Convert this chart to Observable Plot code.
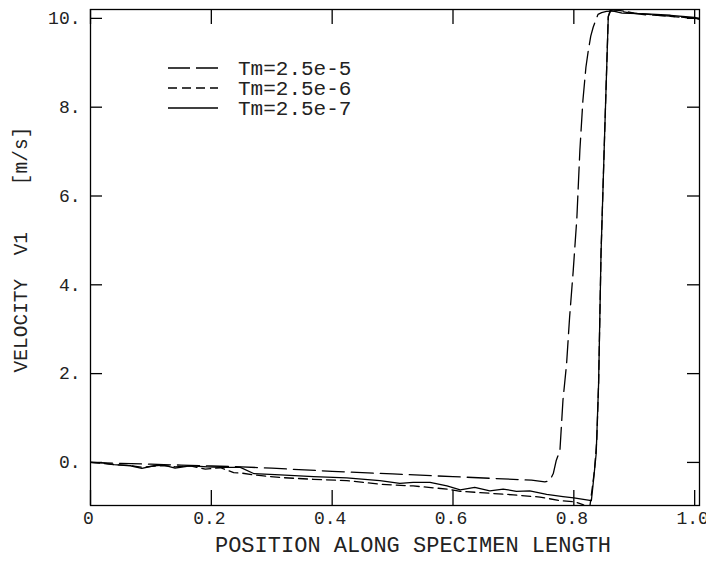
<!DOCTYPE html>
<html>
<head>
<meta charset="utf-8">
<script src="https://cdn.jsdelivr.net/npm/d3@7"></script>
<script src="https://cdn.jsdelivr.net/npm/@observablehq/plot@0.6"></script>
<style>
  html, body { margin: 0; padding: 0; background: #fff; }
  #chart { width: 706px; height: 566px; }
</style>
</head>
<body>
<div id="chart"></div>
<script>
// ---- Data ----
const seriesNames = ["Tm=2.5e-5", "Tm=2.5e-6", "Tm=2.5e-7"];

const xA = [0, 0.05, 0.1, 0.15, 0.2, 0.25, 0.3, 0.4, 0.5, 0.6, 0.7, 0.73, 0.752, 0.76, 0.766, 0.771, 0.777, 0.782, 0.788, 0.793, 0.799, 0.805, 0.81, 0.815, 0.82, 0.824, 0.828, 0.832, 0.836, 0.84, 0.846, 0.854, 0.87, 0.89, 0.92, 0.96, 1.0, 1.008];
const yA = [0, -0.02, -0.04, -0.06, -0.08, -0.1, -0.13, -0.2, -0.26, -0.32, -0.38, -0.4, -0.44, -0.41, -0.25, 0.05, 0.27, 1.4, 2.22, 3.27, 4.32, 5.5, 7.03, 8.15, 8.9, 9.28, 9.6, 9.8, 9.95, 10.09, 10.13, 10.16, 10.17, 10.13, 10.08, 10.05, 10.0, 9.99];

const xB = [0, 0.02, 0.04, 0.066, 0.085, 0.1, 0.12, 0.14, 0.165, 0.19, 0.215, 0.237, 0.25, 0.27, 0.314, 0.369, 0.424, 0.479, 0.534, 0.59, 0.612, 0.645, 0.7, 0.744, 0.777, 0.802, 0.815, 0.826, 0.834, 0.838, 0.841, 0.845, 0.851, 0.857, 0.862, 0.88, 0.9, 0.94, 1.0, 1.008];
const yB = [0, -0.02, -0.05, -0.07, -0.11, -0.09, -0.07, -0.1, -0.08, -0.15, -0.12, -0.23, -0.24, -0.28, -0.34, -0.38, -0.41, -0.49, -0.53, -0.6, -0.65, -0.68, -0.73, -0.78, -0.86, -0.89, -0.95, -1.05, -0.2, 0.5, 1.78, 4.7, 7.4, 10.05, 10.2, 10.17, 10.12, 10.07, 10.0, 9.98];

const xC = [0, 0.02, 0.039, 0.066, 0.085, 0.105, 0.121, 0.14, 0.165, 0.193, 0.215, 0.248, 0.27, 0.314, 0.369, 0.424, 0.479, 0.512, 0.534, 0.562, 0.59, 0.612, 0.636, 0.661, 0.683, 0.705, 0.727, 0.755, 0.782, 0.8, 0.829, 0.832, 0.837, 0.841, 0.845, 0.851, 0.857, 0.86, 0.88, 0.92, 0.96, 1.0, 1.008];
const yC = [0, -0.01, -0.05, -0.075, -0.135, -0.075, -0.06, -0.13, -0.075, -0.1, -0.11, -0.11, -0.25, -0.28, -0.32, -0.35, -0.41, -0.47, -0.45, -0.45, -0.53, -0.62, -0.56, -0.64, -0.6, -0.65, -0.64, -0.72, -0.77, -0.8, -0.86, -0.48, 0.2, 1.78, 4.7, 7.4, 10.03, 10.18, 10.12, 10.1, 10.07, 10.02, 10.0];

const xTicks = [0, 0.2, 0.4, 0.6, 0.8, 1.0];
const xTickLabels = ["0", "0.2", "0.4", "0.6", "0.8", "1.0"];
const yTicks = [0, 2, 4, 6, 8, 10];
const yTickLabels = ["0.", "2.", "4.", "6.", "8.", "10."];

const xTitle = "POSITION ALONG SPECIMEN LENGTH";
const yTitle = "VELOCITY\u00A0\u00A0V1\u00A0\u00A0\u00A0\u00A0[m/s]";

// ---- Build ----
const toRows = (xs, ys, s) => xs.map((x, i) => ({x, y: ys[i], s}));
const rowsA = toRows(xA, yA, seriesNames[0]);
const rowsB = toRows(xB, yB, seriesNames[1]);
const rowsC = toRows(xC, yC, seriesNames[2]);

const dashes = ["22,7", "9,5", null];
const FONT = "Liberation Mono, DejaVu Sans Mono, monospace";
const W = 706, H = 566, ML = 90, MR = 7, MT = 9, MB = 61;
const FW = W - ML - MR, FH = H - MT - MB;

const lineOpts = (i) => ({x: "x", y: "y", stroke: "black", strokeWidth: 1.3, strokeDasharray: dashes[i], clip: true, curve: "linear"});

const chart = Plot.plot({
  width: W, height: H,
  marginLeft: ML, marginRight: MR, marginTop: MT, marginBottom: MB,
  style: {fontFamily: FONT, background: "white"},
  x: {domain: [0, 1.008], axis: null},
  y: {domain: [-0.97, 10.2], axis: null},
  marks: [
    Plot.line(rowsA, lineOpts(0)),
    Plot.line(rowsB, lineOpts(1)),
    Plot.line(rowsC, lineOpts(2)),
    Plot.frame({stroke: "black", strokeWidth: 1.3}),
    // inward ticks
    Plot.tickX(xTicks, {x: d => d, insetTop: FH - 15, stroke: "black", strokeWidth: 1.3}),
    Plot.tickX(xTicks, {x: d => d, insetBottom: FH - 15, stroke: "black", strokeWidth: 1.3}),
    Plot.tickY(yTicks, {y: d => d, insetRight: FW - 12, stroke: "black", strokeWidth: 1.3}),
    Plot.tickY(yTicks, {y: d => d, insetLeft: FW - 12, stroke: "black", strokeWidth: 1.3}),
    // tick labels
    Plot.text(xTicks, {x: d => d, text: (d, i) => xTickLabels[i], frameAnchor: "bottom", dy: 18, dx: -2, fontSize: 18, fill: "#222", textAnchor: "middle"}),
    Plot.text(yTicks, {y: d => d, text: (d, i) => yTickLabels[i], frameAnchor: "left", dx: -10, fontSize: 18, fill: "#222", textAnchor: "end"}),
    // axis titles
    Plot.text([xTitle], {text: d => d, frameAnchor: "bottom", dy: 46, dx: 18, fontSize: 22, fill: "#222", textAnchor: "middle"}),
    Plot.text([yTitle], {text: d => d, frameAnchor: "left", dx: -70, dy: -8, rotate: -90, fontSize: 19.5, fill: "#222", textAnchor: "middle"})
  ]
});

document.getElementById("chart").appendChild(chart);

// ---- Legend (inside plot area, top-left) ----
const svg = d3.select(chart.tagName.toLowerCase() === "svg" ? chart : chart.querySelector("svg"));
const lg = svg.append("g").attr("font-family", FONT).attr("font-size", 21).attr("fill", "#222").attr("text-anchor", "start");
seriesNames.forEach((name, i) => {
  const cy = 68 + i * 20;
  lg.append("line").attr("x1", 168).attr("x2", 218).attr("y1", cy).attr("y2", cy)
    .attr("stroke", "black").attr("stroke-width", 1.3)
    .attr("stroke-dasharray", dashes[i] ? (i === 0 ? "22,6" : "9,5") : null);
  lg.append("text").attr("x", 238).attr("y", cy).attr("dy", "0.35em").attr("text-anchor", "start").text(name);
});
</script>
</body>
</html>
